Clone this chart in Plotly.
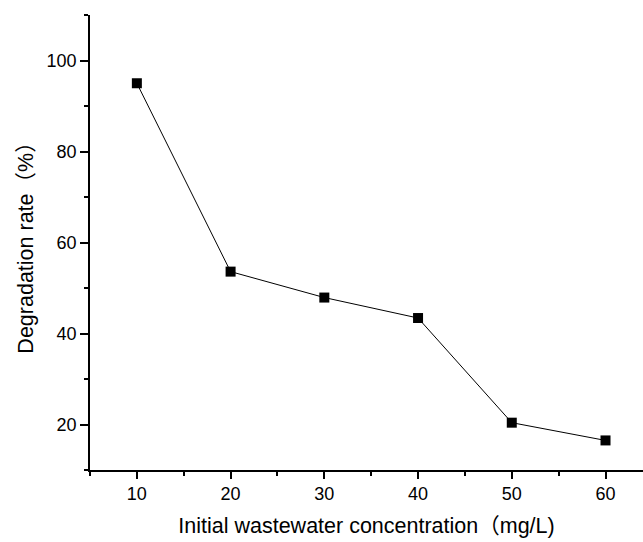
import plotly.graph_objects as go

concentration = [10, 20, 30, 40, 50, 60]
degradation = [95.0, 53.6, 47.9, 43.4, 20.4, 16.5]

x_ticks = [10, 20, 30, 40, 50, 60]
y_ticks = [20, 40, 60, 80, 100]

fig = go.Figure()
fig.add_trace(go.Scatter(
    x=concentration, y=degradation, mode="lines+markers",
    line=dict(color="black", width=1),
    marker=dict(symbol="square", size=10, color="black"),
    showlegend=False,
))

font_family = "Arial, Liberation Sans, Noto Sans CJK SC, sans-serif"
fig.update_layout(
    width=643, height=542,
    margin=dict(l=90, r=0, t=15, b=72),
    plot_bgcolor="white", paper_bgcolor="white",
    font=dict(family=font_family, color="black", size=18),
)
fig.update_xaxes(
    range=[5, 64], tickvals=x_ticks, showgrid=False, zeroline=False,
    showline=True, linecolor="black", linewidth=1.5,
    ticks="outside", ticklen=7, tickwidth=1.5, tickcolor="black",
    minor=dict(ticks="outside", ticklen=4, tickwidth=1.5, tickcolor="black", dtick=5, tick0=0),
    tickfont=dict(size=18),
    title=dict(text="Initial wastewater concentration（mg/L)", font=dict(size=21.5), standoff=15),
)
fig.update_yaxes(
    range=[10, 110], tickvals=y_ticks, showgrid=False, zeroline=False,
    showline=True, linecolor="black", linewidth=1.5,
    ticks="outside", ticklen=8, tickwidth=1.5, tickcolor="black",
    minor=dict(ticks="outside", ticklen=4, tickwidth=1.5, tickcolor="black", dtick=10, tick0=0),
    tickfont=dict(size=18),
    title=dict(text="Degradation rate（%）", font=dict(size=21.5), standoff=7),
)
fig.write_html("out.html")
